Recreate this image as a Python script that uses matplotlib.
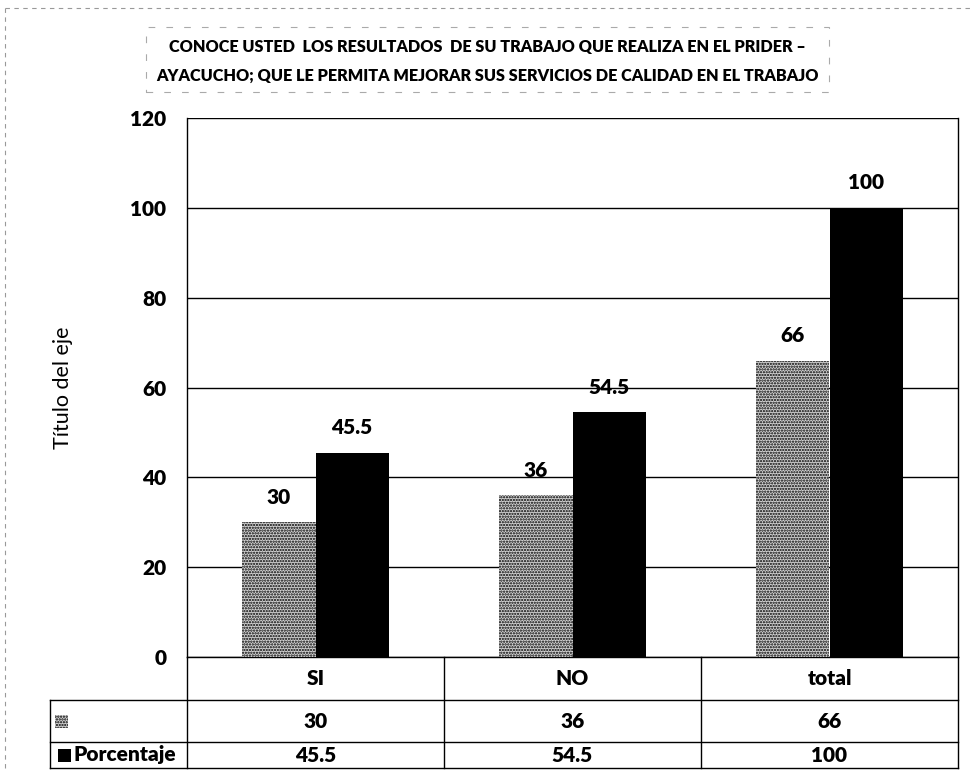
import matplotlib
matplotlib.use("Agg")
import matplotlib.pyplot as plt
import matplotlib.transforms as mtransforms
from matplotlib.patches import Rectangle
from matplotlib.lines import Line2D

# Data
categories = ["SI", "NO", "total"]
frecuencia = [30, 36, 66]
porcentaje = [45.5, 54.5, 100]
series_names = ["", "Porcentaje"]
y_ticks = [0, 20, 40, 60, 80, 100, 120]
title_lines = ["CONOCE USTED  LOS RESULTADOS  DE SU TRABAJO QUE REALIZA EN EL PRIDER \u2013",
               "AYACUCHO; QUE LE PERMITA MEJORAR SUS SERVICIOS DE CALIDAD EN EL TRABAJO"]
y_label = "Título del eje"

plt.rcParams["font.family"] = ["Lato", "DejaVu Sans"]
plt.rcParams["hatch.linewidth"] = 1.1

W, H = 975, 772
fig = plt.figure(figsize=(W / 100, H / 100), dpi=100)

def fx(px):
    return px / W

def fy(py):
    return 1 - py / H

FS = 15
BOLD = "heavy"

ax_left, ax_right, ax_top, ax_bottom = 187, 958, 118, 657
ax = fig.add_axes([fx(ax_left), fy(ax_bottom), fx(ax_right - ax_left), fy(ax_top) - fy(ax_bottom)])

x = list(range(len(categories)))
bw = 0.285
stipple = dict(facecolor="#d2d2d2", edgecolor="black", hatch="......", linewidth=0)
b1 = ax.bar([i - bw / 2 for i in x], frecuencia, width=bw, **stipple, zorder=3)
b2 = ax.bar([i + bw / 2 for i in x], porcentaje, width=bw, color="black", zorder=3)

for bars, vals in ((b1, frecuencia), (b2, porcentaje)):
    for rect, v in zip(bars, vals):
        ax.annotate(f"{v:g}", (rect.get_x() + rect.get_width() / 2, v),
                    xytext=(0, 18), textcoords="offset points",
                    ha="center", va="center", fontsize=FS, fontweight=BOLD, zorder=5)

ax.set_xlim(-0.5, len(categories) - 0.5)
ax.set_ylim(0, 120)
ax.set_yticks(y_ticks)
ax.set_yticklabels([str(t) for t in y_ticks], fontsize=FS, fontweight=BOLD)
ax.tick_params(axis="y", length=0, pad=15)
ax.set_xticks([])
ax.yaxis.grid(True, color="black", linewidth=1.0, zorder=1)
ax.set_axisbelow(True)
for s in ("top", "bottom"):
    ax.spines[s].set_visible(False)
for s in ("left", "right"):
    ax.spines[s].set_linewidth(1.0)

ax.set_ylabel(y_label, fontsize=15.5)
ax.yaxis.set_label_coords(-0.148, 0.5)

# Data table beneath the plot
trans = mtransforms.blended_transform_factory(ax.transData, ax.transAxes)
ppx = ax_bottom - ax_top  # axes height in pixels
row_edges_px = [0, 43, 85, 111]
row_y = [-r / ppx for r in row_edges_px]
x_head = -0.5 - (ax_left - 50) / ((ax_right - ax_left) / len(categories))
x_end = len(categories) - 0.5
lw = 1.0

def hline(x0, x1, y):
    ax.add_line(Line2D([x0, x1], [y, y], transform=trans, color="black", lw=lw, clip_on=False))

def vline(xv, y0, y1):
    ax.add_line(Line2D([xv, xv], [y0, y1], transform=trans, color="black", lw=lw, clip_on=False))

hline(-0.5, x_end, row_y[0])
hline(x_head, x_end, row_y[1])
hline(x_head, x_end, row_y[2])
hline(x_head, x_end, row_y[3])
for k in range(len(categories) + 1):
    vline(-0.5 + k, row_y[0], row_y[3])
vline(x_head, row_y[1], row_y[3])

rows = [categories, [f"{v:g}" for v in frecuencia], [f"{v:g}" for v in porcentaje]]
for r, vals in enumerate(rows):
    yc = (row_y[r] + row_y[r + 1]) / 2
    for i, v in enumerate(vals):
        ax.text(i, yc, v, transform=trans, ha="center", va="center",
                fontsize=FS, fontweight=BOLD, clip_on=False)

# Legend keys inside the header column
key_w = 0.05
key_h = 13 / ppx
y_r1 = (row_y[1] + row_y[2]) / 2
y_r2 = (row_y[2] + row_y[3]) / 2
ax.add_patch(Rectangle((x_head + 0.02, y_r1 - key_h / 2), key_w, key_h, transform=trans,
                       clip_on=False, **stipple))
ax.add_patch(Rectangle((x_head + 0.03, y_r2 - key_h / 2), key_w, key_h, transform=trans,
                       clip_on=False, facecolor="black", edgecolor="black", linewidth=0))
ax.text(x_head + 0.03 + key_w + 0.012, y_r2, series_names[1], transform=trans, ha="left",
        va="center", fontsize=FS, fontweight=BOLD, clip_on=False)

# Title with dashed frame
fig.text(fx(487), fy(47), title_lines[0], ha="center", va="center", fontsize=11.7,
         fontweight=BOLD)
fig.text(fx(487), fy(76), title_lines[1], ha="center", va="center", fontsize=11.7,
         fontweight=BOLD)
fig.add_artist(Rectangle((fx(146), fy(92)), fx(829 - 146), fy(27) - fy(92), transform=fig.transFigure,
                         fill=False, edgecolor="#aaaaaa", linewidth=0.8, linestyle=(0, (6, 10))))

# Outer chart frame
fig.add_artist(Line2D([fx(5), fx(5)], [fy(8), fy(770)], transform=fig.transFigure,
                      color="#999999", lw=0.8, linestyle=(0, (4, 4))))
fig.add_artist(Line2D([fx(5), fx(972)], [fy(8), fy(8)], transform=fig.transFigure,
                      color="#999999", lw=0.8, linestyle=(0, (4, 4))))

fig.savefig("out.png", dpi=100)
